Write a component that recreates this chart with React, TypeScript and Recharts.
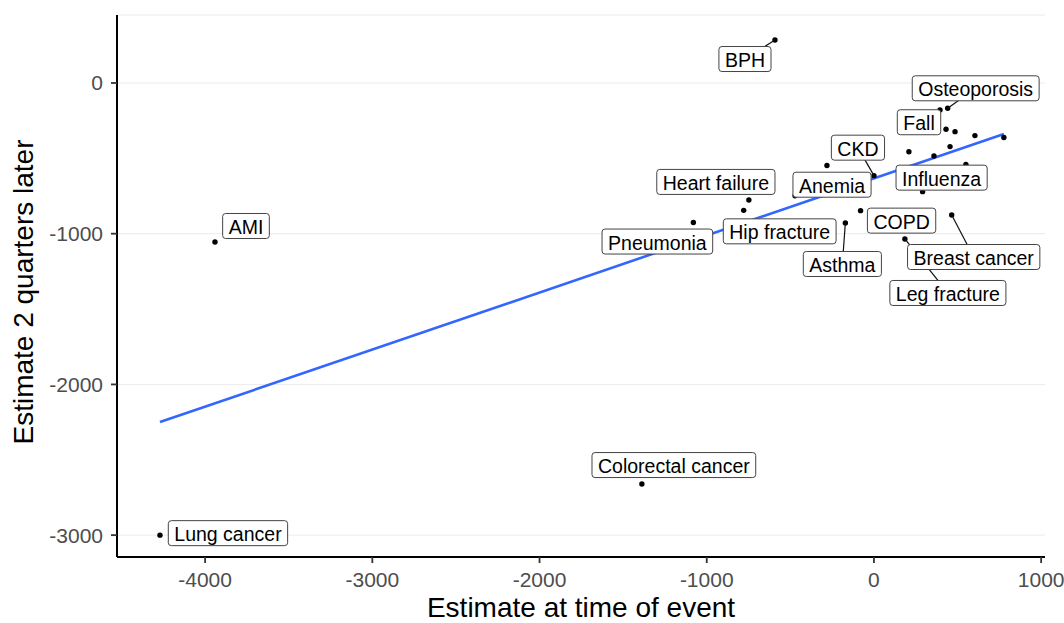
import { ScatterChart, Scatter, XAxis, YAxis, CartesianGrid, ReferenceLine } from 'recharts'

// Labelled conditions: estimate at time of event vs. estimate two quarters later
const conditions = [
  'BPH', 'AMI', 'Lung cancer', 'Colorectal cancer', 'Osteoporosis', 'Fall', 'CKD', 'Influenza',
  'Anemia', 'Heart failure', 'Hip fracture', 'COPD', 'Asthma', 'Pneumonia', 'Breast cancer', 'Leg fracture',
]
const atEvent = [-592, -3941, -4270, -1388, 441, 431, 0, 291, -472, -748, -779, -80, -171, -1080, 465, 185]
const later = [285, -1055, -3000, -2661, -168, -307, -615, -721, -748, -776, -845, -847, -929, -926, -876, -1035]

// Conditions whose labels were dropped
const otherAtEvent = [395, 485, 604, 777, 209, 455, 359, 550, -281]
const otherLater = [-179, -323, -349, -362, -456, -422, -484, -540, -548]

// Linear fit endpoints
const fitX = [-4270, 777]
const fitY = [-2250, -338]

const xTicks = [-4000, -3000, -2000, -1000, 0, 1000]
const yTicks = [-3000, -2000, -1000, 0]

const points = [
  ...conditions.map((name, i) => ({ name, x: atEvent[i], y: later[i] })),
  ...otherAtEvent.map((x, i) => ({ name: '', x, y: otherLater[i] })),
]
const labelled = points.filter((p) => p.name)

// where each label box sits relative to its point (px)
const LABEL_NUDGE: Record<string, [number, number]> = {
  BPH: [-30, 19],
  AMI: [31, -16],
  'Lung cancer': [68, -2],
  'Colorectal cancer': [32, -19],
  Osteoporosis: [28, -20],
  Fall: [-27, -7],
  CKD: [-16, -28],
  Influenza: [19, -14],
  Anemia: [37, -11],
  'Heart failure': [-33, -18],
  'Hip fracture': [36, 21],
  COPD: [41, 10],
  Asthma: [-3, 41],
  Pneumonia: [-36, 19],
  'Breast cancer': [22, 42],
  'Leg fracture': [43, 54],
}
// labels far enough from their point to get a leader line
const LEADERS = new Set(['BPH', 'Osteoporosis', 'CKD', 'Asthma', 'Breast cancer', 'Leg fracture'])

const FONT = '"Liberation Sans", Arial, sans-serif'
const LABEL_SIZE = 19.5
const BOX_H = 25
const PAD = 6

let ctx: CanvasRenderingContext2D | null = null
function textWidth(s: string) {
  if (!ctx) ctx = document.createElement('canvas').getContext('2d')
  if (!ctx) return s.length * LABEL_SIZE * 0.55
  ctx.font = `${LABEL_SIZE}px ${FONT}`
  return ctx.measureText(s).width
}

function boxFor(name: string, cx: number, cy: number) {
  const [dx, dy] = LABEL_NUDGE[name] || [0, 0]
  const w = textWidth(name) + PAD * 2
  const mx = cx + dx
  const my = cy + dy
  return { x: mx - w / 2, y: my - BOX_H / 2, w, h: BOX_H, mx, my }
}

const Dot = (props: any) => <circle cx={props.cx} cy={props.cy} r={2.7} fill="#000" />

const Segment = (props: any) => {
  const { cx, cy, payload } = props
  if (!LEADERS.has(payload.name)) return <g />
  const b = boxFor(payload.name, cx, cy)
  return <line x1={cx} y1={cy} x2={b.mx} y2={b.my} stroke="#111" strokeWidth={1.2} />
}

const LabelBox = (props: any) => {
  const { cx, cy, payload } = props
  const b = boxFor(payload.name, cx, cy)
  return (
    <g>
      <rect x={b.x} y={b.y} width={b.w} height={b.h} rx={3} fill="#fff" stroke="#444" strokeWidth={1} />
      <text x={b.mx} y={b.my + 1} textAnchor="middle" dominantBaseline="central" fontSize={LABEL_SIZE} fill="#000" fontFamily={FONT}>
        {payload.name}
      </text>
    </g>
  )
}

const YTitle = () => (
  <text x={33} y={292} transform="rotate(-90 33 292)" textAnchor="middle" fontSize={28} fill="#000" fontFamily={FONT}>
    Estimate 2 quarters later
  </text>
)

export default function App() {
  return (
    <div style={{ position: 'absolute', left: 0, top: 0, width: 1064, height: 623, background: '#fff', fontFamily: FONT }}>
      <ScatterChart width={1064} height={623} margin={{ top: 15, right: 19, bottom: 0, left: 0 }}>
        <CartesianGrid vertical={false} stroke="#ebebeb" strokeWidth={1} />
        <XAxis
          type="number"
          dataKey="x"
          domain={[-4527, 1023]}
          ticks={xTicks}
          allowDataOverflow
          height={66}
          tick={{ fontSize: 21, fill: '#4d4d4d' }}
          tickSize={6}
          tickMargin={9}
          axisLine={{ stroke: '#000', strokeWidth: 2 }}
          tickLine={{ stroke: '#333', strokeWidth: 1.8 }}
          label={{ value: 'Estimate at time of event', position: 'insideBottom', offset: 6, fontSize: 28, fill: '#000' }}
        />
        <YAxis
          type="number"
          dataKey="y"
          domain={[-3145, 451]}
          ticks={yTicks}
          allowDataOverflow
          width={117}
          tick={{ fontSize: 21, fill: '#4d4d4d' }}
          tickSize={6}
          tickMargin={8}
          axisLine={{ stroke: '#000', strokeWidth: 2 }}
          tickLine={{ stroke: '#333', strokeWidth: 1.8 }}
          label={<YTitle />}
        />
        <ReferenceLine
          segment={[
            { x: fitX[0], y: fitY[0] },
            { x: fitX[1], y: fitY[1] },
          ]}
          stroke="#3366ff"
          strokeWidth={2.6}
        />
        <Scatter data={points} shape={Dot} isAnimationActive={false} />
        <Scatter data={labelled} shape={Segment} isAnimationActive={false} />
        <Scatter data={labelled} shape={LabelBox} isAnimationActive={false} />
      </ScatterChart>
    </div>
  )
}
